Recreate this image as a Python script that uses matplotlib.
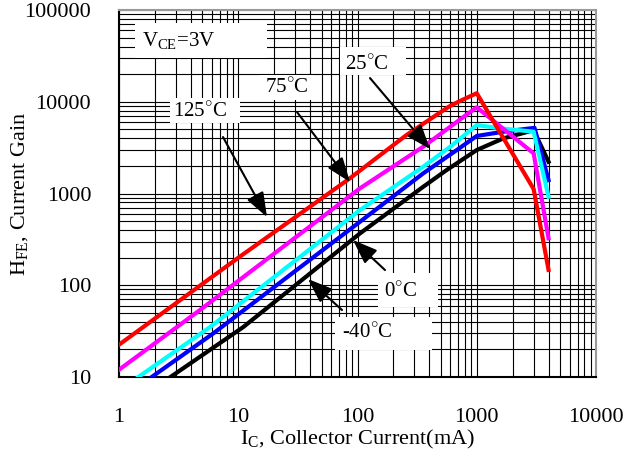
import matplotlib
matplotlib.use('Agg')
import matplotlib.pyplot as plt
from matplotlib.patches import Rectangle
from matplotlib.ticker import LogLocator, FixedLocator, FixedFormatter

plt.rcParams['font.family'] = ['Liberation Serif', 'DejaVu Serif']
plt.rcParams['mathtext.fontset'] = 'custom'
plt.rcParams['mathtext.rm'] = 'Liberation Serif'

# collector current (mA) / current gain per temperature
ic_125 = [1, 10.3, 86, 258, 580, 700, 1000, 3000, 4000]
hfe_125 = [22.5, 205, 1460, 4350, 8800, 10000, 12400, 1120, 147]

ic_75 = [1, 4.8, 105, 356, 850, 1000, 3000, 4000]
hfe_75 = [12, 54, 1140, 3240, 7480, 8700, 2740, 325]

ic_25 = [1.45, 5.8, 105, 356, 600, 1000, 1570, 3000, 4000]
hfe_25 = [10, 35, 661, 1960, 3240, 5580, 5140, 4720, 923]

ic_0 = [1.88, 6.2, 105, 356, 680, 1000, 1670, 3050, 4000]
hfe_0 = [10, 30, 493, 1660, 2980, 4240, 4720, 5200, 1400]

ic_m40 = [2.7, 11, 105, 356, 558, 1000, 1670, 2400, 3000, 4000]
hfe_m40 = [10, 35, 368, 1186, 1800, 2980, 3990, 4530, 4900, 2220]

x_ticks = [1, 10, 100, 1000, 10000]
y_ticks = [10, 100, 1000, 10000, 100000]

FS = 15

fig = plt.figure(figsize=(6.25, 4.57), dpi=100)
ax = fig.add_axes([0.1904, 0.175, 0.7632, 0.803])
ax.set_xscale('log')
ax.set_yscale('log')
ax.set_xlim(1, 10000)
ax.set_ylim(10, 100000)

ax.xaxis.set_major_locator(FixedLocator(x_ticks))
ax.xaxis.set_major_formatter(FixedFormatter([str(v) for v in x_ticks]))
ax.yaxis.set_major_locator(FixedLocator(y_ticks))
ax.yaxis.set_major_formatter(FixedFormatter([str(v) for v in y_ticks]))
ax.xaxis.set_minor_locator(LogLocator(base=10, subs=range(2, 10)))
ax.yaxis.set_minor_locator(LogLocator(base=10, subs=range(2, 10)))
ax.xaxis.set_minor_formatter(plt.NullFormatter())
ax.yaxis.set_minor_formatter(plt.NullFormatter())

ax.grid(True, which='both', color='black', linewidth=0.8)
ax.tick_params(which='both', length=0, labelsize=16)
ax.tick_params(axis='x', pad=22)
ax.tick_params(axis='y', pad=20)
for s in ['top', 'right']:
    ax.spines[s].set_color('#999999')
    ax.spines[s].set_linewidth(1.5)
for s in ['left', 'bottom']:
    ax.spines[s].set_color('black')
    ax.spines[s].set_linewidth(1.5)

ax.plot(ic_m40, hfe_m40, color='black', lw=3, zorder=4)
ax.plot(ic_0, hfe_0, color='#0000ff', lw=3, zorder=4)
ax.plot(ic_25, hfe_25, color='#00ffff', lw=3, zorder=4)
ax.plot(ic_75, hfe_75, color='#ff00ff', lw=3, zorder=4)
ax.plot(ic_125, hfe_125, color='#ff0000', lw=3, zorder=4)

W, H = 477.0, 367.0


def fx(px):
    return (px - 119) / W


def fy(py):
    return (377 - py) / H


# white boxes behind the labels
boxes = [(135, 267, 23, 58), (170, 240, 98, 123), (260, 313, 75, 100),
         (340, 406, 47, 75), (378, 438, 273, 307), (335, 432, 317, 350)]
for x0, x1, y0, y1 in boxes:
    ax.add_patch(Rectangle((fx(x0), fy(y1)), (x1 - x0) / W, (y1 - y0) / H,
                           transform=ax.transAxes, facecolor='white',
                           edgecolor='none', zorder=3))

ax.text(fx(142), fy(40), r'$\mathrm{V_{CE}}$=3V', transform=ax.transAxes,
        fontsize=FS, ha='left', va='center', zorder=5)

labels = [(r'125$^{\circ}$C', 200, 112, 223, 137, 267, 217),
          (r'75$^{\circ}$C', 287, 88, 297, 112, 350, 182),
          (r'25$^{\circ}$C', 367, 65, 370, 78, 430, 149),
          (r'0$^{\circ}$C', 401, 292, 385, 270, 353, 240),
          (r'-40$^{\circ}$C', 367, 333, 342, 310, 308, 279)]
for txt, tx, ty, ax0, ay0, ax1, ay1 in labels:
    ax.text(fx(tx), fy(ty), txt, transform=ax.transAxes, fontsize=FS,
            ha='center', va='center', zorder=5)
    ax.annotate('', xy=(fx(ax1), fy(ay1)), xytext=(fx(ax0), fy(ay0)),
                xycoords='axes fraction', textcoords='axes fraction',
                arrowprops=dict(arrowstyle='-|>,head_length=0.75,head_width=0.28',
                                mutation_scale=20, color='black', lw=1.5,
                                shrinkA=0, shrinkB=0),
                zorder=6)

ax.set_xlabel(r'$\mathrm{I_{C}}$, Collector Current(mA)', fontsize=16, labelpad=1)
ax.set_ylabel(r'$\mathrm{H_{FE}}$, Current Gain', fontsize=16, labelpad=-4)

fig.savefig('out.png', dpi=100, facecolor='white')
